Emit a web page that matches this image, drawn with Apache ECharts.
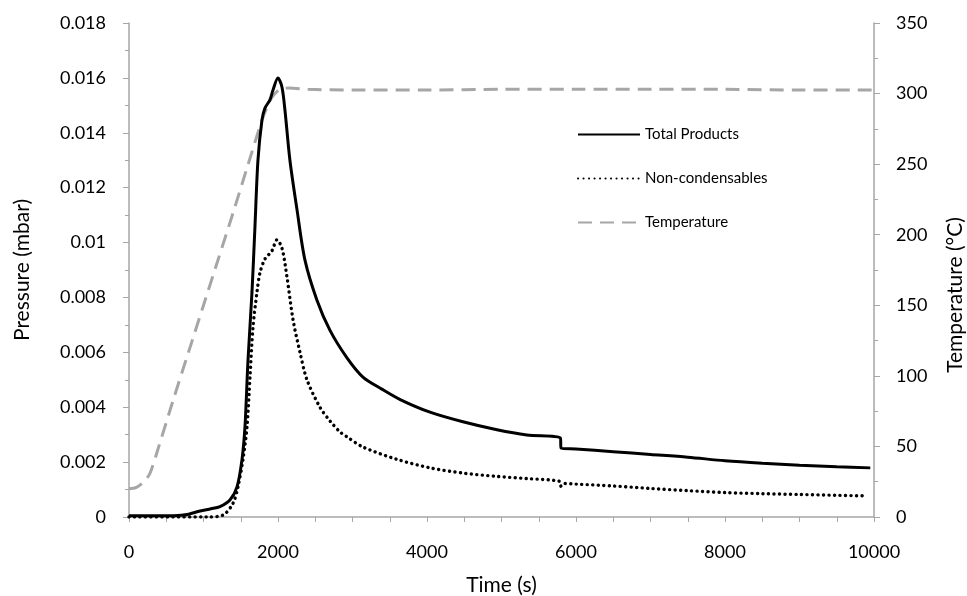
<!DOCTYPE html>
<html>
<head>
<meta charset="utf-8">
<script src="https://cdn.jsdelivr.net/npm/echarts@6/dist/echarts.min.js"></script>
<style>
html,body{margin:0;padding:0;background:#fff;}
#chart{width:967px;height:596px;}
</style>
</head>
<body>
<div id="chart"></div>
<script>
// ---- Data ----
const xTicks = [0, 2000, 4000, 6000, 8000, 10000];

const timeTotal = [0, 300, 600, 700, 800, 955, 1100, 1221, 1355, 1450, 1517, 1557, 1597, 1651, 1691, 1731, 1785, 1825, 1892, 1932, 1999, 2053, 2093, 2160, 2255, 2362, 2523, 2698, 2926, 3140, 3400, 3640, 4040, 4482, 4939, 5341, 5790, 5800, 6000, 6500, 7000, 7500, 8000, 8500, 9000, 9500, 9950];
const totalProducts = [0.00005, 0.00005, 0.00005, 0.00006, 0.0001, 0.00022, 0.0003, 0.00038, 0.00062, 0.0011, 0.0021, 0.0033, 0.0057, 0.0082, 0.0106, 0.0130, 0.01447, 0.0149, 0.0152, 0.01555, 0.0160, 0.01567, 0.01483, 0.0130, 0.0112, 0.00936, 0.0079, 0.0068, 0.0058, 0.0051, 0.00465, 0.00428, 0.00382, 0.00347, 0.00318, 0.00299, 0.00288, 0.00251, 0.00248, 0.00238, 0.00228, 0.00218, 0.00205, 0.00196, 0.00189, 0.00183, 0.00179];

const timeNC = [0, 1047, 1262, 1396, 1463, 1530, 1584, 1624, 1664, 1718, 1758, 1825, 1919, 1986, 2053, 2120, 2201, 2295, 2389, 2563, 2698, 2832, 2926, 3140, 3597, 4040, 4482, 4939, 5341, 5780, 5800, 5850, 6000, 6500, 7000, 7500, 8000, 8500, 9000, 9500, 9900];
const nonCondensables = [0, 0, 0.00007, 0.0005, 0.0011, 0.0021, 0.0033, 0.0051, 0.0069, 0.0082, 0.0089, 0.0094, 0.0097, 0.0101, 0.0098, 0.00875, 0.0072, 0.0060, 0.0050, 0.0040, 0.0035, 0.0031, 0.00292, 0.00255, 0.0021, 0.00179, 0.0016, 0.00148, 0.0014, 0.0013, 0.00112, 0.00122, 0.0012, 0.00113, 0.00104, 0.00096, 0.00089, 0.00085, 0.00082, 0.00079, 0.00077];

const timeTemp = [0, 100, 200, 282, 400, 600, 800, 1000, 1200, 1400, 1600, 1785, 1892, 1960, 2030, 2150, 2400, 3000, 4000, 5000, 6000, 7000, 8000, 9000, 10000];
const temperature = [20, 21, 25, 31, 50, 84, 117, 150, 183, 216, 250, 281, 295, 300, 303, 304, 303, 302.5, 302.5, 303, 303, 303, 303, 302.5, 302.5];

const seriesNames = ['Total Products', 'Non-condensables', 'Temperature'];

// ---- Chart ----
const pairs = (xs, ys) => xs.map((x, i) => [x, ys[i]]);
const FONT = 'Lato, "Open Sans", sans-serif';
const axisGrey = '#a6a6a6';

const chart = echarts.init(document.getElementById('chart'), null, {renderer: 'canvas'});
chart.setOption({
  animation: false,
  backgroundColor: '#fff',
  textStyle: {fontFamily: FONT},
  grid: {left: 129, right: 93, top: 23, bottom: 79, containLabel: false, outerBoundsMode: 'none'},
  legend: {
    orient: 'vertical',
    left: 572,
    top: 122,
    itemWidth: 62,
    itemHeight: 16,
    itemGap: 29,
    data: seriesNames,
    itemStyle: {color: 'rgba(0,0,0,0)', borderWidth: 0, opacity: 0},
    textStyle: {fontFamily: FONT, fontSize: 15, color: '#000'},
    selectedMode: false
  },
  xAxis: {
    type: 'value',
    min: 0, max: 10000, interval: 2000,
    name: 'Time (s)',
    nameLocation: 'middle',
    nameGap: 58,
    nameTextStyle: {fontFamily: FONT, fontSize: 21, color: '#000'},
    axisLine: {lineStyle: {color: axisGrey, width: 1.5}},
    axisTick: {show: true, length: 5, inside: false, lineStyle: {color: axisGrey}},
    minorTick: {show: true, splitNumber: 4, length: 5, lineStyle: {color: axisGrey}},
    splitLine: {show: false},
    axisLabel: {fontFamily: FONT, fontSize: 18, color: '#000', margin: 26,
      formatter: v => xTicks.includes(v) ? String(v) : ''}
  },
  yAxis: [{
    type: 'value',
    position: 'left',
    min: 0, max: 0.018, interval: 0.002,
    name: 'Pressure (mbar)',
    nameLocation: 'middle',
    nameGap: 96,
    nameTextStyle: {fontFamily: FONT, fontSize: 21, color: '#000'},
    axisLine: {show: true, lineStyle: {color: axisGrey, width: 1.5}},
    axisTick: {show: true, length: 6, lineStyle: {color: axisGrey}},
    minorTick: {show: true, splitNumber: 2, length: 4, lineStyle: {color: axisGrey}},
    splitLine: {show: false},
    axisLabel: {fontFamily: FONT, fontSize: 18, color: '#000', margin: 23,
      formatter: v => String(parseFloat(v.toFixed(3)))}
  }, {
    type: 'value',
    position: 'right',
    min: 0, max: 350, interval: 50,
    name: 'Temperature (°C)',
    nameLocation: 'middle',
    nameGap: 71,
    nameRotate: 90,
    nameTextStyle: {fontFamily: FONT, fontSize: 21, color: '#000', padding: [0, 50, 0, 0]},
    axisLine: {show: true, lineStyle: {color: axisGrey, width: 1.5}},
    axisTick: {show: true, length: 6, lineStyle: {color: axisGrey}},
    minorTick: {show: true, splitNumber: 2, length: 4, lineStyle: {color: axisGrey}},
    splitLine: {show: false},
    axisLabel: {fontFamily: FONT, fontSize: 18, color: '#000', margin: 22}
  }],
  series: [{
    name: seriesNames[0],
    type: 'line',
    yAxisIndex: 0,
    data: pairs(timeTotal, totalProducts),
    symbol: 'none',
    smooth: 0.3,
    lineStyle: {color: '#000', width: 3},
    itemStyle: {color: '#000'},
    z: 3
  }, {
    name: seriesNames[1],
    type: 'line',
    yAxisIndex: 0,
    data: pairs(timeNC, nonCondensables),
    symbol: 'none',
    smooth: 0.3,
    lineStyle: {color: '#000', width: 3.4, type: [0.1, 5.4], cap: 'round'},
    itemStyle: {color: '#000'},
    z: 3
  }, {
    name: seriesNames[2],
    type: 'line',
    yAxisIndex: 1,
    data: pairs(timeTemp, temperature),
    symbol: 'none',
    smooth: 0.3,
    lineStyle: {color: '#a6a6a6', width: 3, type: [14, 8]},
    itemStyle: {color: '#a6a6a6'},
    z: 2
  }]
});
</script>
</body>
</html>
